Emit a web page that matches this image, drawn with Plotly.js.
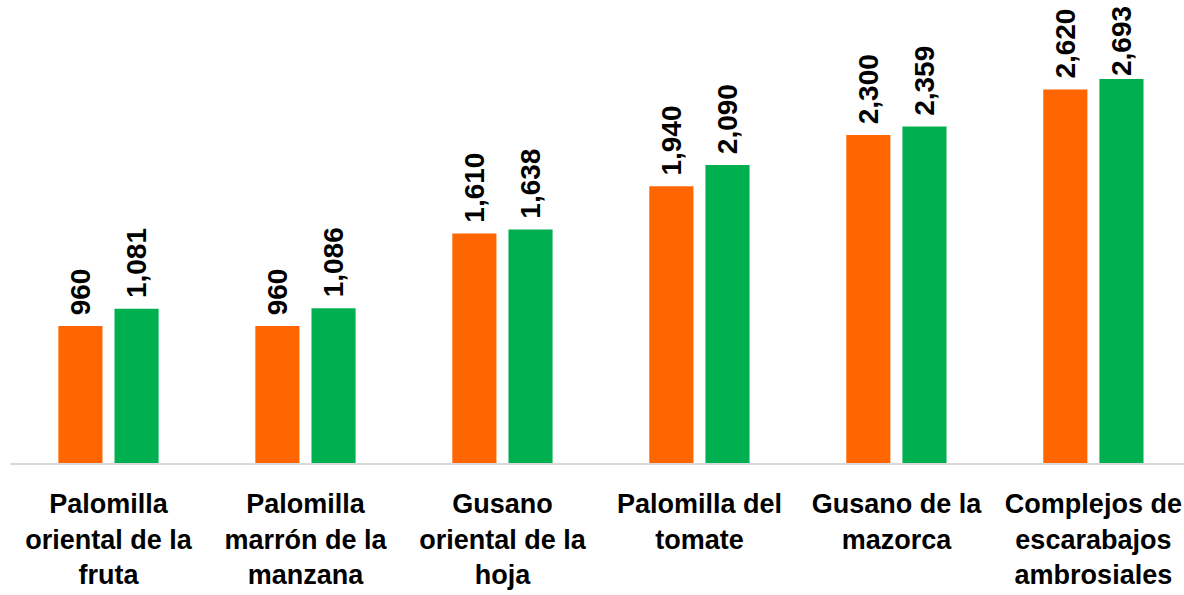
<!DOCTYPE html>
<html>
<head>
<meta charset="utf-8">
<script src="https://cdn.plot.ly/plotly-3.0.1.min.js"></script>
<style>html,body{margin:0;padding:0;background:#fff;}#chart{width:1184px;height:595px;}</style>
</head>
<body>
<div id="chart"></div>
<script>
const categories = [
  "Palomilla<br>oriental de la<br>fruta",
  "Palomilla<br>marrón de la<br>manzana",
  "Gusano<br>oriental de la<br>hoja",
  "Palomilla del<br>tomate",
  "Gusano de la<br>mazorca",
  "Complejos de<br>escarabajos<br>ambrosiales"
];
const seriesA = [960, 960, 1610, 1940, 2300, 2620];
const seriesB = [1081, 1086, 1638, 2090, 2359, 2693];

const fontFamily = "Liberation Sans, Arial, sans-serif";
const labelFont = {family: fontFamily, size: 28, color: "#000000", weight: "bold"};
const padded = "&nbsp;%{y:,}";
const tightB = seriesB.map((v, i) => i === seriesB.length - 1 ? "%{y:,}" : padded);

const traces = [
  {type: "bar", x: categories, y: seriesA, marker: {color: "#FF6600"},
   texttemplate: padded, textposition: "outside", textangle: -90, constraintext: "none",
   textfont: labelFont, cliponaxis: false, hoverinfo: "none"},
  {type: "bar", x: categories, y: seriesB, marker: {color: "#00B050"},
   texttemplate: tightB, textposition: "outside", textangle: -90, constraintext: "none",
   textfont: labelFont, cliponaxis: false, hoverinfo: "none"}
];

const layout = {
  width: 1184, height: 595,
  margin: {l: 10, r: 0, t: 0, b: 132},
  paper_bgcolor: "#ffffff", plot_bgcolor: "#ffffff",
  showlegend: false,
  barmode: "group", bargap: 0.43, bargroupgap: 0.214,
  xaxis: {
    type: "category", range: [-0.5, 5.46],
    showline: true, linecolor: "#d9d9d9", linewidth: 2,
    ticks: "outside", ticklen: 16, tickcolor: "rgba(0,0,0,0)",
    tickfont: {family: fontFamily, size: 27, color: "#000000", weight: "bold"},
    tickangle: 0, showgrid: false, zeroline: false, fixedrange: true
  },
  yaxis: {
    range: [0, 3247], visible: false, showgrid: false, zeroline: false, fixedrange: true
  }
};

Plotly.newPlot("chart", traces, layout, {displayModeBar: false, staticPlot: true});
</script>
</body>
</html>
